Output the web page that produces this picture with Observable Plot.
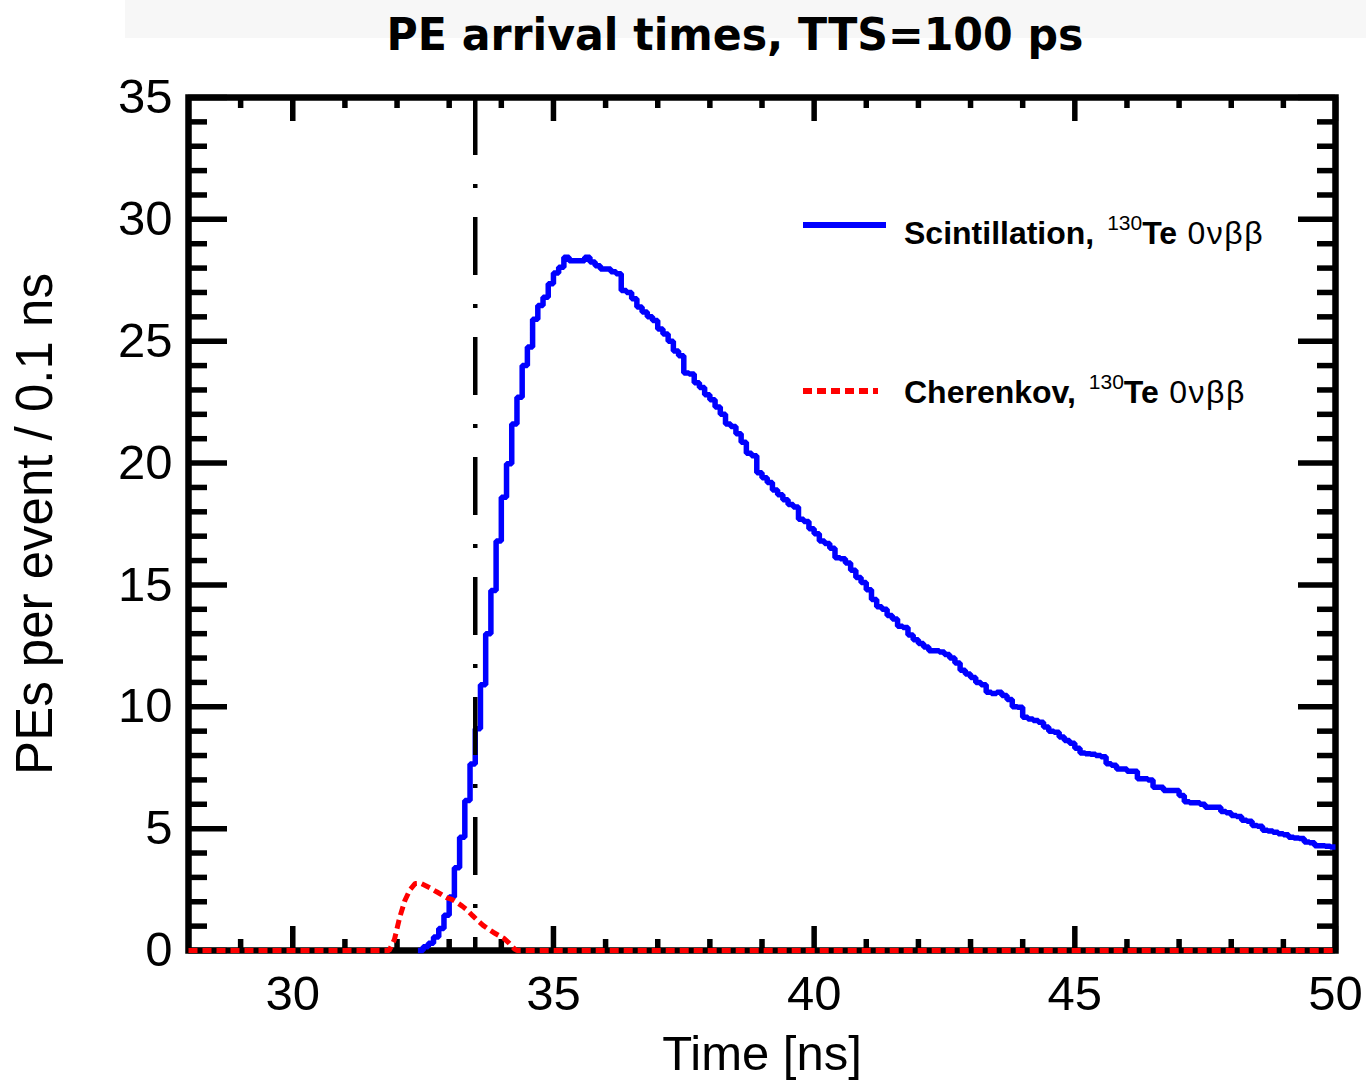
<!DOCTYPE html>
<html><head><meta charset="utf-8">
<script src="https://cdn.jsdelivr.net/npm/d3@7"></script>
<script src="https://cdn.jsdelivr.net/npm/@observablehq/plot@0.6"></script>
<style>body{margin:0;background:#fff;} svg{display:block}</style>
</head><body><div id="chart"></div>
<script>
// ---- text ----
const titleText = "PE arrival times, TTS=100 ps";
const xLabel = "Time [ns]";
const yLabel = "PEs per event / 0.1 ns";
const legendNames = ["Scintillation, ", "Cherenkov, "];
const isotopeMass = "130";
const isotopeSymbol = "Te";
const decayMode = " 0νββ";

// ---- axes ----
const xDomain = [28, 50];
const yDomain = [0, 35];
const xMajorTicks = [30, 35, 40, 45, 50];
const xMinorTicks = [29, 31, 32, 33, 34, 36, 37, 38, 39, 41, 42, 43, 44, 46, 47, 48, 49];
const yMajorTicks = [0, 5, 10, 15, 20, 25, 30, 35];
const yMinorTicks = [1, 2, 3, 4, 6, 7, 8, 9, 11, 12, 13, 14, 16, 17, 18, 19, 21, 22, 23, 24, 26, 27, 28, 29, 31, 32, 33, 34];

// ---- vertical reference line ----
const cutTime = 33.5;

// ---- scintillation histogram: 0.1 ns bins starting at 32.4 ns ----
const binWidth = 0.1;
const scintStart = 32.4;
const scintCounts = [
  0, 0.15, 0.3, 0.55, 0.9, 1.45, 2.2, 3.4, 4.65, 6.15,
  7.65, 9.1, 10.9, 13.0, 14.77, 16.8, 18.6, 19.97, 21.6, 22.7,
  24.0, 24.76, 25.9, 26.47, 26.8, 27.36, 27.8, 28.04, 28.45, 28.3,
  28.3, 28.3, 28.45, 28.25, 28.1, 27.96, 27.96, 27.85, 27.77, 27.08,
  27.0, 26.74, 26.4, 26.2, 26.0, 25.85, 25.5, 25.3, 25.0, 24.6,
  24.4, 23.7, 23.65, 23.3, 23.1, 22.8, 22.6, 22.3, 22.0, 21.6,
  21.5, 21.2, 20.85, 20.4, 20.3, 19.6, 19.4, 19.2, 18.9, 18.7,
  18.5, 18.3, 18.2, 17.7, 17.6, 17.3, 17.1, 16.8, 16.7, 16.5,
  16.12, 16.07, 15.9, 15.6, 15.3, 15.1, 14.8, 14.4, 14.1, 14.0,
  13.75, 13.6, 13.3, 13.25, 12.95, 12.75, 12.6, 12.45, 12.3, 12.3,
  12.25, 12.15, 12.0, 11.8, 11.5, 11.35, 11.2, 11.0, 10.9, 10.6,
  10.55, 10.6, 10.46, 10.3, 10.0, 9.98, 9.57, 9.5, 9.44, 9.37,
  9.17, 9.0, 8.96, 8.76, 8.62, 8.5, 8.3, 8.1, 8.07, 8.05,
  8.0, 7.95, 7.66, 7.6, 7.45, 7.45, 7.36, 7.36, 7.05, 7.05,
  7.0, 6.7, 6.7, 6.56, 6.56, 6.56, 6.36, 6.1, 6.06, 6.06,
  6.0, 5.88, 5.88, 5.88, 5.7, 5.65, 5.54, 5.5, 5.34, 5.3,
  5.13, 5.1, 4.93, 4.9, 4.85, 4.79, 4.75, 4.65, 4.62, 4.6,
  4.45, 4.42, 4.3, 4.3, 4.28, 4.25
];

// ---- Cherenkov curve (time, value) ----
const cherTime = [28, 31.85, 31.95, 32.05, 32.15, 32.25, 32.35, 32.45, 32.55, 32.65,
  32.75, 32.85, 32.95, 33.05, 33.15, 33.25, 33.35, 33.45, 33.55, 33.65,
  33.75, 33.85, 33.95, 34.05, 34.15, 34.25, 34.3, 50];
const cherValue = [0, 0, 0.45, 1.35, 2.05, 2.5, 2.75, 2.76, 2.66, 2.55,
  2.42, 2.3, 2.17, 2.1, 1.97, 1.82, 1.65, 1.43, 1.22, 1.03,
  0.88, 0.74, 0.62, 0.5, 0.3, 0.07, 0, 0];

// ---- build ----
const W = 1366, H = 1082;
const mL = 188, mR = 31, mT = 97, mB = 132;
const fw = W - mL - mR, fh = H - mT - mB;
const font = "'Liberation Sans', Arial, sans-serif";

const scintPts = scintCounts.map((v, i) => ({t: +(scintStart + i * binWidth).toFixed(2), v}));
scintPts.push({t: xDomain[1], v: scintCounts[scintCounts.length - 1]});
const cherPts = cherTime.map((t, i) => ({t, v: cherValue[i]}));

const tickW = 5.5;
const chart = Plot.plot({
  width: W, height: H,
  marginLeft: mL, marginRight: mR, marginTop: mT, marginBottom: mB,
  style: {fontFamily: font, background: "transparent"},
  x: {domain: xDomain, axis: null},
  y: {domain: yDomain, axis: null},
  marks: [
    // x ticks (bottom & top, pointing inward)
    Plot.tickX(xMinorTicks, {x: d => d, insetTop: fh - 11, stroke: "black", strokeWidth: tickW}),
    Plot.tickX(xMinorTicks, {x: d => d, insetBottom: fh - 11, stroke: "black", strokeWidth: tickW}),
    Plot.tickX(xMajorTicks, {x: d => d, insetTop: fh - 24, stroke: "black", strokeWidth: tickW}),
    Plot.tickX(xMajorTicks, {x: d => d, insetBottom: fh - 24, stroke: "black", strokeWidth: tickW}),
    // y ticks (left & right, pointing inward)
    Plot.tickY(yMinorTicks, {y: d => d, insetRight: fw - 19, stroke: "black", strokeWidth: tickW}),
    Plot.tickY(yMinorTicks, {y: d => d, insetLeft: fw - 18, stroke: "black", strokeWidth: tickW}),
    Plot.tickY(yMajorTicks, {y: d => d, insetRight: fw - 39, stroke: "black", strokeWidth: tickW}),
    Plot.tickY(yMajorTicks, {y: d => d, insetLeft: fw - 37, stroke: "black", strokeWidth: tickW}),
    Plot.frame({stroke: "black", strokeWidth: 6.5}),
    // scintillation histogram
    Plot.line(scintPts, {x: "t", y: "v", curve: "step-after", stroke: "#0000ff", strokeWidth: 5.5,
      strokeLinecap: "butt", strokeLinejoin: "miter"}),
    // reference line
    Plot.ruleX([cutTime], {y1: yDomain[1], y2: yDomain[0], stroke: "black", strokeWidth: 4.5,
      strokeDasharray: "58,29,4,29", strokeLinecap: "butt"}),
    // Cherenkov
    Plot.line(cherPts, {x: "t", y: "v", stroke: "#ff0000", strokeWidth: 5, strokeDasharray: "9,5",
      strokeLinecap: "butt", strokeLinejoin: "miter"}),
    // tick labels
    Plot.text(xMajorTicks, {x: d => d, frameAnchor: "bottom", dy: 44, text: d => String(d), fontSize: 49, fill: "black", lineAnchor: "middle", textAnchor: "middle"}),
    Plot.text(yMajorTicks, {y: d => d, frameAnchor: "left", dx: -16, textAnchor: "end", text: d => String(d), fontSize: 49, fill: "black", lineAnchor: "middle"}),
    // axis labels
    Plot.text([xLabel], {frameAnchor: "bottom", dy: 104, text: d => d, fontSize: 49, fill: "black", lineAnchor: "middle", textAnchor: "middle"}),
    Plot.text([yLabel], {frameAnchor: "left", dx: -153, rotate: -90, text: d => d, fontSize: 51, fill: "black", lineAnchor: "middle", textAnchor: "middle"})
  ]
});

document.getElementById("chart").appendChild(chart);
const svg = d3.select(chart);

// faint title band + title
svg.insert("rect", ":first-child").attr("x", 125).attr("y", 0).attr("width", W - 125).attr("height", 38).attr("fill", "#f7f7f7");
svg.append("text")
  .attr("x", 735).attr("y", 50)
  .attr("text-anchor", "middle")
  .attr("font-family", "'DejaVu Sans', sans-serif")
  .attr("font-weight", "bold")
  .attr("font-size", 44)
  .attr("textLength", 697)
  .attr("lengthAdjust", "spacingAndGlyphs")
  .attr("fill", "black")
  .text(titleText);

// legend
const legendRows = [
  {name: legendNames[0], color: "#0000ff", dash: null, lineY: 225, textY: 244, x2: 886},
  {name: legendNames[1], color: "#ff0000", dash: "9,5", lineY: 391, textY: 403, x2: 878}
];
legendRows.forEach(r => {
  const ln = svg.append("line")
    .attr("x1", 803).attr("x2", r.x2)
    .attr("y1", r.lineY).attr("y2", r.lineY)
    .attr("stroke", r.color).attr("stroke-width", 6).attr("stroke-linecap", "butt");
  if (r.dash) ln.attr("stroke-dasharray", r.dash);
  const t = svg.append("text")
    .attr("x", 904).attr("y", r.textY)
    .attr("text-anchor", "start")
    .attr("font-family", font).attr("font-size", 32).attr("font-weight", "bold").attr("fill", "black");
  t.append("tspan").text(r.name);
  t.append("tspan").attr("font-size", 21).attr("font-weight", "normal").attr("dy", -14).attr("dx", 4).text(isotopeMass);
  t.append("tspan").attr("dy", 14).text(isotopeSymbol);
  t.append("tspan").attr("font-weight", "normal").attr("letter-spacing", 1.5).text(decayMode);
});
</script>
</body></html>
